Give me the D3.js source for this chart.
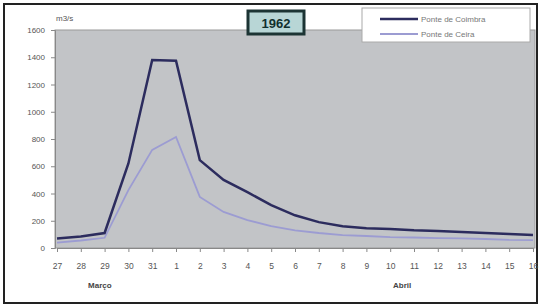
<!DOCTYPE html>
<html><head><meta charset="utf-8">
<script src="https://cdn.jsdelivr.net/npm/d3@7"></script>
<style>body{margin:0;background:#fff}svg{display:block;font-family:"Liberation Sans",Arial,sans-serif}</style>
</head><body><svg id="c" width="540" height="307"></svg>
<script>
const categories = ["27","28","29","30","31","1","2","3","4","5","6","7","8","9","10","11","12","13","14","15","16"];
const seriesNames = ["Ponte de Coimbra","Ponte de Ceira"];
const coimbra = [70,85,110,620,1380,1375,645,500,410,315,240,190,160,145,140,130,125,118,110,103,95];
const ceira = [40,55,75,425,720,815,375,265,205,160,130,110,95,88,80,77,73,70,66,60,58];
const yTicks = [0,200,400,600,800,1000,1200,1400,1600];
const months = [{label:"Março", at:1.8},{label:"Abril", at:14.5}];
const title = "1962";
const unit = "m3/s";

const svg = d3.select("#c");
const m = {l:55, r:535, t:30, b:248};
const x = d3.scalePoint().domain(categories).range([m.l+2, m.r-2]);
const y = d3.scaleLinear().domain([0,1600]).range([m.b, m.t]);

// outer frame
svg.append("rect").attr("x",4).attr("y",4).attr("width",533).attr("height",299)
  .attr("fill","#fff").attr("stroke","#222").attr("stroke-width",2);

// plot area
svg.append("rect").attr("x",m.l).attr("y",m.t).attr("width",m.r-m.l).attr("height",m.b-m.t)
  .attr("fill","#c2c4c7").attr("stroke","#9a9a9a").attr("stroke-width",1);

// axes
const ya = svg.append("g").attr("transform",`translate(${m.l},0)`)
  .call(d3.axisLeft(y).tickValues(yTicks).tickFormat(d3.format("d")).tickSize(4).tickPadding(6));
ya.selectAll("text").attr("font-size",8).attr("fill","#555");
ya.selectAll("line,path").attr("stroke","#888");
const xa = svg.append("g").attr("transform",`translate(0,${m.b})`)
  .call(d3.axisBottom(x).tickSize(4).tickPadding(11));
xa.selectAll("text").attr("font-size",8.5).attr("fill","#555");
xa.selectAll("line,path").attr("stroke","#888");

svg.append("text").attr("x",56).attr("y",21).attr("font-size",8).attr("fill","#555").text(unit);

months.forEach(mo=>{
  const px = x(categories[0]) + mo.at * x.step();
  svg.append("text").attr("x",px).attr("y",288).attr("text-anchor","middle")
    .attr("font-size",8).attr("font-weight","bold").attr("fill","#444").text(mo.label);
});

// lines
const line = d3.line().x((d,i)=>x(categories[i])).y(d=>y(d));
svg.append("path").datum(ceira).attr("d",line).attr("fill","none")
  .attr("stroke","#9c9cd2").attr("stroke-width",1.8);
svg.append("path").datum(coimbra).attr("d",line).attr("fill","none")
  .attr("stroke","#2c2c5e").attr("stroke-width",2.5);

// title box
svg.append("rect").attr("x",248).attr("y",11).attr("width",56).attr("height",23)
  .attr("fill","#b8d6d6").attr("stroke","#1c3434").attr("stroke-width",3);
svg.append("text").attr("x",276).attr("y",27.5).attr("text-anchor","middle")
  .attr("font-size",13).attr("font-weight","bold").attr("fill","#12302e").text(title);

// legend
const lg = svg.append("g");
lg.append("rect").attr("x",362).attr("y",8).attr("width",168).attr("height",34)
  .attr("fill","#fff").attr("stroke","#aaa");
const colors = ["#2c2c5e","#9c9cd2"];
seriesNames.forEach((n,i)=>{
  const yy = 19 + i*15;
  lg.append("line").attr("x1",380).attr("x2",418).attr("y1",yy).attr("y2",yy)
    .attr("stroke",colors[i]).attr("stroke-width",i===0?2.5:1.8);
  lg.append("text").attr("x",421).attr("y",yy+3).attr("font-size",8).attr("fill","#777").text(n);
});
</script></body></html>
